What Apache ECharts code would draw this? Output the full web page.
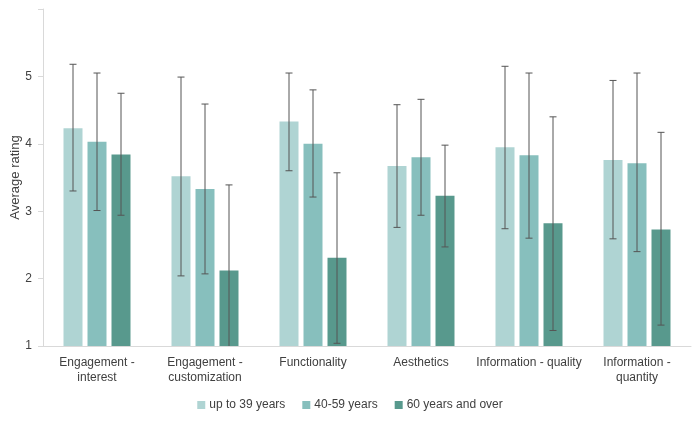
<!DOCTYPE html>
<html>
<head>
<meta charset="utf-8">
<script src="https://cdn.jsdelivr.net/npm/echarts@6/dist/echarts.min.js"></script>
<style>
  html, body { margin: 0; padding: 0; background: #fff; }
  #c1 { width: 700px; height: 426px; }
</style>
</head>
<body>
<div id="c1"></div>
<script>
const categories = ['Engagement -\ninterest', 'Engagement -\ncustomization', 'Functionality', 'Aesthetics', 'Information - quality', 'Information -\nquantity']
const seriesNames = ['up to 39 years', '40-59 years', '60 years and over']

// mean ratings
const young = [4.23, 3.52, 4.33, 3.67, 3.95, 3.76]
const middle = [4.03, 3.33, 4.00, 3.80, 3.83, 3.71]
const older = [3.84, 2.12, 2.31, 3.23, 2.82, 2.73]

// error bar ends
const youngHigh = [5.18, 4.99, 5.05, 4.58, 5.15, 4.94]
const youngLow = [3.30, 2.04, 3.60, 2.76, 2.74, 2.59]
const middleHigh = [5.05, 4.59, 4.80, 4.66, 5.05, 5.05]
const middleLow = [3.01, 2.07, 3.21, 2.94, 2.60, 2.40]
const olderHigh = [4.75, 3.39, 3.57, 3.98, 4.40, 4.17]
const olderLow = [2.94, 0.85, 1.04, 2.47, 1.23, 1.31]

const yTicks = [1, 2, 3, 4, 5, 6]

const colors = ['#afd4d3', '#87bfbd', '#58998d']
const barW = 19
const barGapPx = 5
const font = 'Liberation Sans'

const means = [young, middle, older]
const highs = [youngHigh, middleHigh, olderHigh]
const lows = [youngLow, middleLow, olderLow]

const myChart = echarts.init(document.getElementById('c1'))

const errorSeries = (k) => ({
  type: 'custom',
  z: 10,
  silent: true,
  data: categories.map((c, i) => [i, lows[k][i], highs[k][i]]),
  renderItem: (params, api) => {
    const off = (k - 1) * (barW + barGapPx)
    const yMin = yTicks[0]
    const lo = Math.max(api.value(1), yMin)
    const top = api.coord([api.value(0), api.value(2)])
    const bot = api.coord([api.value(0), lo])
    const x = top[0] + off
    const style = { stroke: '#555', lineWidth: 1 }
    const children = [
      { type: 'line', shape: { x1: x, y1: top[1], x2: x, y2: bot[1] }, style }
    ]
    children.push({ type: 'line', shape: { x1: x - 3.5, y1: top[1], x2: x + 3.5, y2: top[1] }, style })
    if (api.value(1) >= yMin) {
      children.push({ type: 'line', shape: { x1: x - 3.5, y1: bot[1], x2: x + 3.5, y2: bot[1] }, style })
    }
    return { type: 'group', children }
  }
})

const option = {
  animation: false,
  color: colors,
  textStyle: { fontFamily: font },
  grid: {
    left: 43,
    right: 9,
    top: 9,
    bottom: 80,
    outerBoundsMode: 'none'
  },
  legend: {
    bottom: 10,
    left: 'center',
    data: seriesNames,
    icon: 'rect',
    itemWidth: 8,
    itemHeight: 8,
    itemGap: 17,
    textStyle: { fontFamily: font, fontSize: 12, color: '#404040', padding: [0, 0, 0, -1] }
  },
  xAxis: {
    type: 'category',
    data: categories,
    axisLine: { show: true, lineStyle: { color: '#d9d9d9' } },
    axisTick: { show: false },
    axisLabel: {
      interval: 0,
      margin: 9,
      fontFamily: font,
      fontSize: 12,
      lineHeight: 15,
      color: '#404040'
    }
  },
  yAxis: {
    type: 'value',
    min: yTicks[0],
    max: yTicks[yTicks.length - 1],
    interval: 1,
    name: 'Average rating',
    nameLocation: 'middle',
    nameGap: 21,
    nameMoveOverlap: false,
    nameTextStyle: { fontFamily: font, fontSize: 13, color: '#404040' },
    axisLine: { show: true, lineStyle: { color: '#d9d9d9' } },
    axisTick: { show: true, length: 5, lineStyle: { color: '#d9d9d9' } },
    splitLine: { show: false },
    axisLabel: {
      margin: 11,
      fontFamily: font,
      fontSize: 12,
      color: '#404040',
      formatter: (v) => (v === yTicks[yTicks.length - 1] ? '' : String(v))
    }
  },
  series: [
    ...means.map((d, k) => ({
      name: seriesNames[k],
      type: 'bar',
      barWidth: barW,
      barGap: (barGapPx / barW * 100).toFixed(1) + '%',
      data: d
    })),
    errorSeries(0),
    errorSeries(1),
    errorSeries(2)
  ]
}
myChart.setOption(option)
</script>
</body>
</html>
